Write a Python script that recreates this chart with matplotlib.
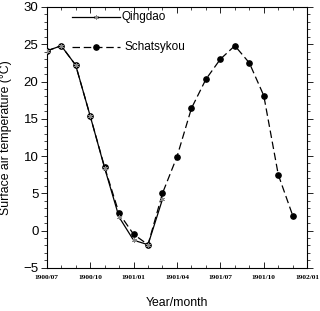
import matplotlib
matplotlib.use("Agg")
import matplotlib.pyplot as plt
from matplotlib.lines import Line2D
import numpy as np

# Months from 1900/07 (index 0) to 1902/01 (index 18)
tick_labels = ["1900/07", "1900/10", "1901/01", "1901/04", "1901/07", "1901/10", "1902/01"]
tick_months = [0, 3, 6, 9, 12, 15, 18]

qingdao_months = [0, 1, 2, 3, 4, 5, 6, 7, 8]
qingdao_temp = [24.1, 24.8, 22.2, 15.4, 8.4, 1.8, -1.3, -1.9, 4.2]

schat_months = [0, 1, 2, 3, 4, 5, 6, 7, 8, 9, 10, 11, 12, 13, 14, 15, 16, 17]
schat_temp = [24.1, 24.8, 22.2, 15.4, 8.5, 2.3, -0.5, -1.9, 5.0, 9.9,
              16.4, 20.3, 23.0, 24.8, 22.5, 18.1, 7.5, 2.0]

fig = plt.figure(figsize=(3.2, 3.11), dpi=100)
ax = fig.add_axes([0.146, 0.139, 0.814, 0.8385])

ax.plot(qingdao_months, qingdao_temp, color="black", lw=0.9, zorder=2)
ax.plot(qingdao_months, qingdao_temp, ls="none", marker=(6, 2, 0), ms=3.5,
        mec="#888888", mew=0.6, zorder=4)
ax.plot(schat_months, schat_temp, color="black", lw=0.9, dashes=(6, 3),
        marker="o", ms=3.8, mfc="black", mec="black", zorder=3)

ax.set_xlim(0, 18)
ax.set_ylim(-5, 30)
ax.set_xticks(tick_months)
ax.set_xticklabels(tick_labels, fontfamily="Liberation Serif", fontweight="bold", fontsize=5.3)
ax.set_xticks(np.arange(0, 19, 1), minor=True)
ax.set_yticks(np.arange(-5, 31, 5))
ax.set_yticks(np.arange(-5, 31, 1), minor=True)

ax.tick_params(axis="x", which="both", direction="in", top=True, bottom=True)
ax.tick_params(axis="x", which="major", length=4, width=0.6, pad=5)
ax.tick_params(axis="x", which="minor", length=2, width=0.5)
ax.tick_params(axis="y", which="both", direction="out", left=True, right=True)
ax.tick_params(axis="y", which="major", length=4, width=0.6, labelsize=9.5, pad=2)
ax.tick_params(axis="y", which="minor", length=2.2, width=0.5)
for lab in ax.get_yticklabels():
    lab.set_fontfamily("Liberation Sans")
for s in ax.spines.values():
    s.set_linewidth(0.8)

ax.set_ylabel("Surface air temperature (\u00b0C)", fontsize=8.8, fontfamily="Liberation Sans",
              va="center")
ax.yaxis.set_label_coords(-0.156, 0.5)
ax.set_xlabel("Year/month", fontsize=8.8, fontfamily="Liberation Sans", va="center")
ax.xaxis.set_label_coords(0.5, -0.137)

# legend drawn manually in axes coordinates
tr = ax.transAxes
ax.add_line(Line2D([0.097, 0.282], [0.960, 0.960], color="black", lw=0.9, transform=tr))
ax.add_line(Line2D([0.19], [0.960], ls="none", marker=(6, 2, 0), ms=3.5, mec="#888888",
                   mew=0.6, transform=tr))
ax.text(0.289, 0.960, "Qingdao", transform=tr, va="center", ha="left", fontsize=8.5,
        fontfamily="Liberation Sans")
ax.add_line(Line2D([0.097, 0.282], [0.845, 0.845], color="black", lw=0.9, dashes=(6, 3),
                   transform=tr))
ax.add_line(Line2D([0.19], [0.845], ls="none", marker="o", ms=3.8, mfc="black", mec="black",
                   transform=tr))
ax.text(0.297, 0.845, "Schatsykou", transform=tr, va="center", ha="left", fontsize=8.5,
        fontfamily="Liberation Sans")

fig.savefig("out.png", dpi=100)
